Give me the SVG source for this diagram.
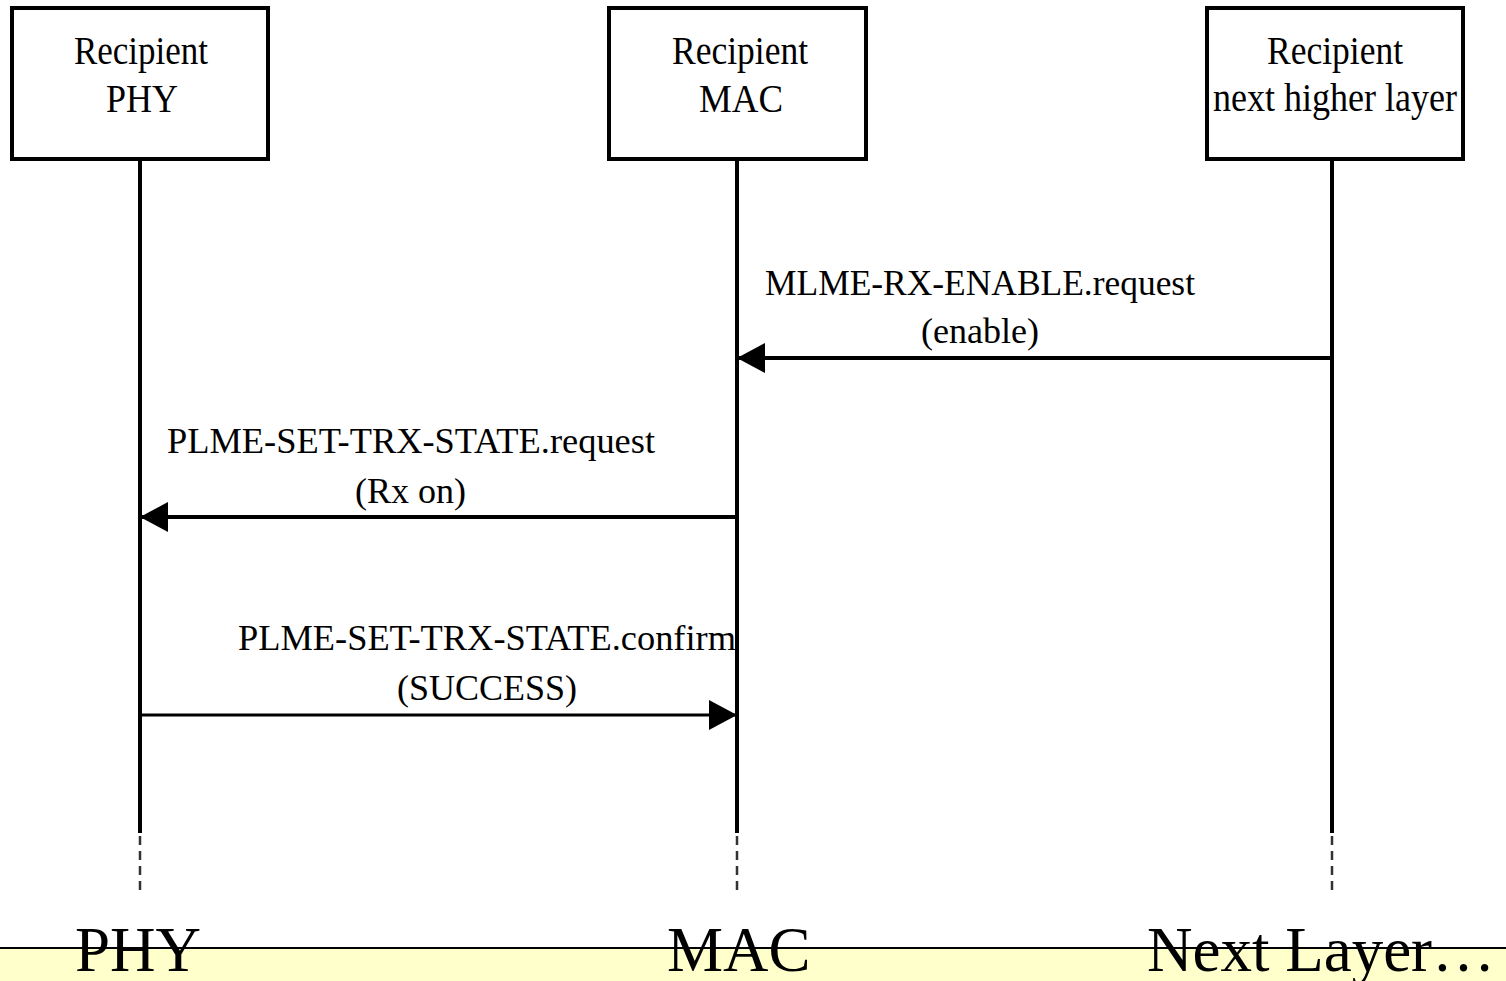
<svg xmlns="http://www.w3.org/2000/svg" width="1506" height="981" viewBox="0 0 1506 981">
<defs>
<style>
.box{fill:#fff;stroke:#000;stroke-width:4}
.life{stroke:#000;stroke-width:4;fill:none}
.dash{stroke:#333;stroke-width:2.5;stroke-dasharray:9 6;fill:none}
.msg{stroke:#000;stroke-width:4;fill:none}
.msg2{stroke:#000;stroke-width:3;fill:none}
.t{font-family:"Liberation Serif","Times New Roman",serif;fill:#000}
.bt{font-size:40px}
.lt{font-size:36px}
.big{font-size:63px}
</style>
<marker id="ah" markerUnits="userSpaceOnUse" markerWidth="30" markerHeight="32" refX="28" refY="15" orient="auto">
<path d="M0,0 L28,15 L0,30 Z" fill="#000"/>
</marker>
</defs>
<rect width="1506" height="981" fill="#fff"/>
<g id="node-phy">
<rect class="box" x="12" y="8" width="256" height="151"/>
<text class="t bt" x="141" y="64" text-anchor="middle" textLength="134" lengthAdjust="spacingAndGlyphs">Recipient</text>
<text class="t bt" x="142" y="112" text-anchor="middle" textLength="72" lengthAdjust="spacingAndGlyphs">PHY</text>
</g>
<g id="node-mac">
<rect class="box" x="609" y="8" width="257" height="151"/>
<text class="t bt" x="740" y="64" text-anchor="middle" textLength="136" lengthAdjust="spacingAndGlyphs">Recipient</text>
<text class="t bt" x="741" y="112" text-anchor="middle" textLength="84" lengthAdjust="spacingAndGlyphs">MAC</text>
</g>
<g id="node-nhl">
<rect class="box" x="1207" y="8" width="256" height="151"/>
<text class="t bt" x="1335" y="64" text-anchor="middle" textLength="136" lengthAdjust="spacingAndGlyphs">Recipient</text>
<text class="t bt" x="1335" y="111" text-anchor="middle" textLength="244" lengthAdjust="spacingAndGlyphs">next higher layer</text>
</g>
<g id="lifelines">
<line class="life" x1="140" y1="159" x2="140" y2="833"/>
<line class="life" x1="737" y1="159" x2="737" y2="833"/>
<line class="life" x1="1332" y1="159" x2="1332" y2="833"/>
<line class="dash" x1="140" y1="836" x2="140" y2="892"/>
<line class="dash" x1="737" y1="836" x2="737" y2="892"/>
<line class="dash" x1="1332" y1="836" x2="1332" y2="892"/>
</g>
<g id="connectors">
<line class="msg" x1="1332" y1="358" x2="737" y2="358" marker-end="url(#ah)"/>
<line class="msg" x1="737" y1="517" x2="140" y2="517" marker-end="url(#ah)"/>
<line class="msg2" x1="140" y1="715" x2="737" y2="715" marker-end="url(#ah)"/>
<text class="t lt" x="765" y="295" textLength="430" lengthAdjust="spacingAndGlyphs">MLME-RX-ENABLE.request</text>
<text class="t lt" x="921" y="343" textLength="118" lengthAdjust="spacingAndGlyphs">(enable)</text>
<text class="t lt" x="167" y="453" textLength="488" lengthAdjust="spacingAndGlyphs">PLME-SET-TRX-STATE.request</text>
<text class="t lt" x="355" y="503" textLength="111" lengthAdjust="spacingAndGlyphs">(Rx on)</text>
<text class="t lt" x="238" y="650" textLength="498" lengthAdjust="spacingAndGlyphs">PLME-SET-TRX-STATE.confirm</text>
<text class="t lt" x="397" y="700" textLength="180" lengthAdjust="spacingAndGlyphs">(SUCCESS)</text>
</g>
<g id="footer">
<rect x="0" y="948" width="1506" height="33" fill="#ffffcc"/>
<text class="t big" x="75" y="971">PHY</text>
<text class="t big" x="667" y="971">MAC</text>
<text class="t big" x="1147" y="971">Next Layer…</text>
<line x1="0" y1="948" x2="1506" y2="948" stroke="#000" stroke-width="2"/>
</g>
</svg>
